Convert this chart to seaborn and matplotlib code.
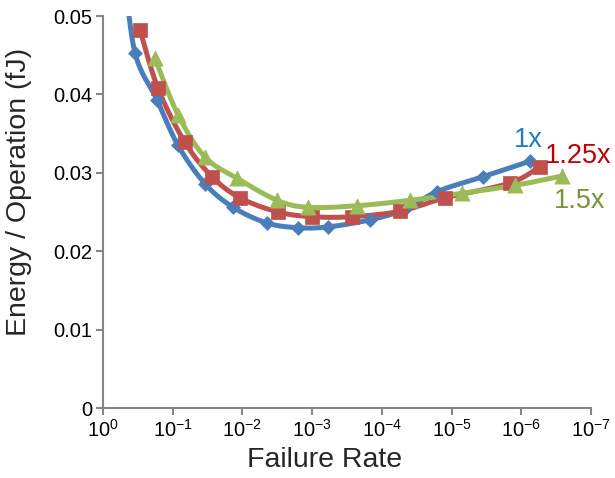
import numpy as np
import pandas as pd
import seaborn as sns
import matplotlib.pyplot as plt
from matplotlib.ticker import FixedLocator, NullLocator

# failure rate (x) and energy per operation (y)
rate_1x = [5.0e-1, 3.48e-1, 1.68e-1, 8.4e-2, 3.44e-2, 1.36e-2, 4.44e-3, 1.59e-3, 5.9e-4, 1.48e-4, 4.8e-5, 1.62e-5, 3.55e-6, 7.4e-7]
energy_1x = [0.0560, 0.0453, 0.0393, 0.0335, 0.0286, 0.0256, 0.0236, 0.0230, 0.0231, 0.0240, 0.0253, 0.0276, 0.0295, 0.0315]

rate_125x = [2.94e-1, 1.63e-1, 6.7e-2, 2.73e-2, 1.08e-2, 3.08e-3, 1.0e-3, 2.68e-4, 5.5e-5, 1.24e-5, 1.45e-6, 5.4e-7]
energy_125x = [0.0482, 0.0408, 0.0339, 0.0295, 0.0268, 0.0250, 0.0244, 0.0244, 0.0251, 0.0268, 0.0287, 0.0308]

rate_15x = [1.8e-1, 8.4e-2, 3.44e-2, 1.19e-2, 3.19e-3, 1.15e-3, 2.27e-4, 3.94e-5, 7.06e-6, 1.23e-6, 2.6e-7]
energy_15x = [0.0446, 0.0374, 0.0320, 0.0293, 0.0265, 0.0256, 0.0258, 0.0265, 0.0274, 0.0284, 0.0296]

series = [
    ("1x", rate_1x, energy_1x, "#4A7EBB", "D", 50, "#1F7BC4", (7.9e-7, 0.0342)),
    ("1.25x", rate_125x, energy_125x, "#C0504D", "s", 95, "#C00000", (1.53e-7, 0.0321)),
    ("1.5x", rate_15x, energy_15x, "#9BBB59", "^", 120, "#77933C", (1.44e-7, 0.0264)),
]


def smooth(xs, ys, n=20):
    # Excel-like smoothed line: Catmull-Rom through the points in log-x space
    lx = np.log10(xs) * 69.7
    py = np.asarray(ys) * 7840
    P = np.column_stack([lx, py])
    P = np.vstack([P[0], P, P[-1]])
    out = []
    for i in range(1, len(P) - 2):
        p0, p1, p2, p3 = P[i - 1], P[i], P[i + 1], P[i + 2]
        for t in np.linspace(0, 1, n, endpoint=False):
            t2, t3 = t * t, t * t * t
            pt = 0.5 * ((2 * p1) + (-p0 + p2) * t + (2 * p0 - 5 * p1 + 4 * p2 - p3) * t2
                        + (-p0 + 3 * p1 - 3 * p2 + p3) * t3)
            out.append(pt)
    out.append(P[-2])
    out = np.array(out)
    return 10 ** (out[:, 0] / 69.7), out[:, 1] / 7840


sns.set_style("white")
plt.rcParams['font.family'] = ['Liberation Sans', 'DejaVu Sans']
plt.rcParams['mathtext.fontset'] = 'custom'
plt.rcParams['mathtext.rm'] = 'Liberation Sans'
plt.rcParams['mathtext.it'] = 'Liberation Sans'

fig = plt.figure(figsize=(6.15, 4.78), dpi=100)
ax = fig.add_axes([0.1675, 0.1464, 0.7935, 0.8201])

for name, xs, ys, color, marker, size, tcolor, tpos in series:
    sx, sy = smooth(xs, ys)
    curve = pd.DataFrame({"x": sx, "y": sy})
    sns.lineplot(data=curve, x="x", y="y", sort=False, color=color, linewidth=3.6,
                 ax=ax, solid_capstyle='round', zorder=2)
    pts = pd.DataFrame({"x": xs, "y": ys})
    sns.scatterplot(data=pts, x="x", y="y", marker=marker, s=size, color=color,
                    edgecolor=color, linewidth=0.5, ax=ax, zorder=3, legend=False)
    ax.text(tpos[0], tpos[1], name, color=tcolor, fontsize=19.5, ha='center', va='center')

ax.set_xscale('log')
ax.set_xlim(1, 1e-7)
ax.set_ylim(0, 0.05)
ax.xaxis.set_major_locator(FixedLocator([10.0 ** -k for k in range(8)]))
ax.xaxis.set_minor_locator(NullLocator())
ax.set_xticklabels([r'$10^{%d}$' % k if k == 0 else r'$10^{-%d}$' % k for k in range(8)])
ax.set_yticks([0, 0.01, 0.02, 0.03, 0.04, 0.05])
ax.set_yticklabels(['0', '0.01', '0.02', '0.03', '0.04', '0.05'])

for side in ['top', 'right']:
    ax.spines[side].set_visible(False)
for side in ['left', 'bottom']:
    ax.spines[side].set_color('#868686')
    ax.spines[side].set_linewidth(1.5)
ax.tick_params(axis='both', which='major', direction='out', length=5, width=1.5,
               color='#868686', labelsize=14.5, labelcolor='black', pad=3)
ax.tick_params(axis='both', left=True, bottom=True)

ax.set_xlabel('Failure Rate', fontsize=20.5)
ax.set_ylabel('Energy / Operation (fJ)', fontsize=20.5)
ax.xaxis.set_label_coords(0.453, -0.1)
ax.yaxis.set_label_coords(-0.145, 0.551)

fig.savefig('out.png', dpi=100)
